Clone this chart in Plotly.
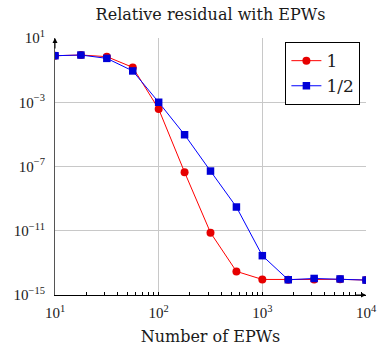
import plotly.graph_objects as go

n_epws = [10, 17.78, 31.62, 56.23, 100, 177.8, 316.2, 562.3, 1000, 1778, 3162, 5623, 10000]
res_1 = [0.79, 0.87, 0.69, 0.148, 3.8e-4, 4.4e-8, 7.6e-12, 2.95e-14, 9.3e-15, 8.9e-15, 9.3e-15, 9.5e-15, 8.5e-15]
res_half = [0.79, 0.87, 0.54, 0.089, 1.0e-3, 9.5e-6, 5.2e-8, 3.0e-10, 2.8e-13, 8.9e-15, 1.07e-14, 1.0e-14, 8.5e-15]
names = ["1", "1/2"]
x_tickvals = [10, 100, 1000, 10000]
x_ticktext = ["10<sup>1</sup>", "10<sup>2</sup>", "10<sup>3</sup>", "10<sup>4</sup>"]
y_tickvals = [1e-15, 1e-11, 1e-7, 1e-3, 10]
y_ticktext = ["10<sup>−15</sup>", "10<sup>−11</sup>", "10<sup>−7</sup>", "10<sup>−3</sup>", "10<sup>1</sup>"]

TFONT = "DejaVu Serif"
NFONT = "Liberation Serif"
TXT = "#1a1a1a"

fig = go.Figure()
fig.add_trace(go.Scatter(x=n_epws, y=res_1, name=names[0], mode="lines+markers",
                         line=dict(color="#ff0000", width=1),
                         marker=dict(symbol="circle", size=8, color="#e60000")))
fig.add_trace(go.Scatter(x=n_epws, y=res_half, name=names[1], mode="lines+markers",
                         line=dict(color="#0000ff", width=1),
                         marker=dict(symbol="square", size=7.5, color="#0000d8")))

fig.update_layout(
    width=377, height=348,
    margin=dict(l=55, r=11, t=38, b=53),
    plot_bgcolor="white", paper_bgcolor="white",
    font=dict(family=NFONT, size=15, color=TXT),
    title=dict(text="Relative residual with EPWs", x=(55 + 366) / 2 / 377, xanchor="center",
               y=1 - 14 / 348, yanchor="middle", font=dict(family=TFONT, size=16, color=TXT)),
    showlegend=True,
    legend=dict(x=0.982, y=0.984, xanchor="right", yanchor="top",
                bordercolor="black", borderwidth=1, bgcolor="white",
                font=dict(family=TFONT, size=17, color=TXT),
                tracegroupgap=0, itemwidth=30),
    xaxis=dict(type="log", range=[1, 4], tickvals=x_tickvals, ticktext=x_ticktext,
               showgrid=True, gridcolor="#c8c8c8", gridwidth=1,
               showline=True, linecolor="black", linewidth=1.2,
               ticks="inside", ticklen=3, tickcolor="black", ticklabelstandoff=4,
               minor=dict(ticks="inside", ticklen=3, tickcolor="black", showgrid=False,
                          tickvals=[v * k for v in [10, 100, 1000] for k in range(2, 10)]),
               title=dict(text="Number of EPWs", font=dict(family=TFONT, size=16, color=TXT), standoff=10),
               tickfont=dict(family=NFONT, size=15, color=TXT), zeroline=False, automargin=False),
    yaxis=dict(type="log", range=[-15, 1], tickvals=y_tickvals, ticktext=y_ticktext,
               showgrid=True, gridcolor="#c8c8c8", gridwidth=1,
               showline=True, linecolor="#555", linewidth=1.2,
               ticks="", ticklabelstandoff=6, tickfont=dict(family=NFONT, size=15, color=TXT),
               zeroline=False, automargin=False),
)

# axis arrows
fig.add_annotation(xref="paper", yref="paper", x=0, y=1.0, ax=0, ay=12,
                   text="", showarrow=True, arrowhead=2, arrowsize=1, arrowwidth=1, arrowcolor="black")
fig.add_annotation(xref="paper", yref="paper", x=1.0, y=0, ax=-12, ay=0,
                   text="", showarrow=True, arrowhead=2, arrowsize=1, arrowwidth=1, arrowcolor="black")

fig.write_html("out.html", config={"displayModeBar": False})

# remove the default page margin so the figure sits at the window's top-left corner
with open("out.html", encoding="utf-8") as f:
    html = f.read()
html = html.replace("<head>", "<head><style>html,body{margin:0;padding:0;overflow:hidden;}</style>", 1)
with open("out.html", "w", encoding="utf-8") as f:
    f.write(html)
